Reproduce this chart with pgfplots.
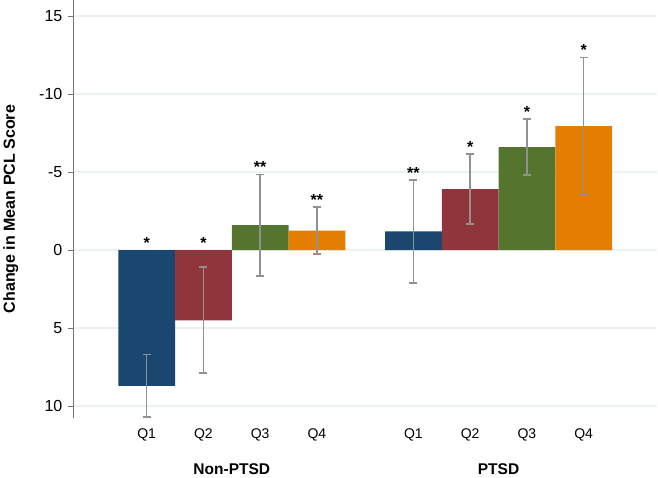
\documentclass[border=0pt]{standalone}
\usepackage{pgfplots}
\pgfplotsset{compat=1.18}
\usepackage{fontspec}
\setmainfont{Liberation Sans}
\definecolor{sNavy}{RGB}{26,71,111}
\definecolor{sMaroon}{RGB}{144,53,59}
\definecolor{sGreen}{RGB}{85,117,47}
\definecolor{sOrange}{RGB}{227,126,0}
\definecolor{sGrid}{RGB}{234,242,243}
\definecolor{sErr}{RGB}{145,145,145}
\begin{document}
\begin{tikzpicture}
\begin{axis}[
    scale only axis,
    width=584pt, height=417pt,
    xmin=0, xmax=10.3,
    ymin=-16, ymax=10.75,
    y dir=reverse,
    axis x line*=bottom,
    axis y line*=left,
    x axis line style={draw=none},
    y axis line style={draw=gray!90!black, line width=0.8pt, -},
    xtick={1.3,2.3,3.3,4.3,6,7,8,9},
    xticklabels={Q1,Q2,Q3,Q4,Q1,Q2,Q3,Q4},
    x tick style={draw=none},
    x tick label style={font=\fontsize{14}{16}\selectfont, yshift=-2pt},
    ytick={-15,-10,-5,0,5,10},
    yticklabels={15,-10,-5,0,5,10},
    y tick style={draw=gray!90!black, line width=0.8pt},
    tick align=outside,
    major tick length=5pt,
    y tick label style={font=\fontsize{16}{18}\selectfont, xshift=-2pt},
    /pgf/number format/assume math mode=true,
    ymajorgrids,
    grid style={sGrid, line width=1.2pt},
    ylabel={\bfseries Change in Mean PCL Score},
    ylabel style={font=\fontsize{16}{18}\selectfont, yshift=14pt},
    clip=false,
    every axis plot/.append style={ybar, bar width=1, bar shift=0pt, draw=none,
        error bars/y dir=both, error bars/y explicit,
        error bars/error bar style={sErr, line width=1.6pt},
        error bars/error mark options={rotate=90, sErr, mark size=4pt, line width=1.6pt}},
]
\addplot[fill=sNavy] coordinates {(1.3,8.7) +- (0,2.0) (6,-1.2) +- (0,3.3)};
\addplot[fill=sMaroon] coordinates {(2.3,4.5) +- (0,3.4) (7,-3.9) +- (0,2.24)};
\addplot[fill=sGreen] coordinates {(3.3,-1.6) +- (0,3.25) (8,-6.6) +- (0,1.8)};
\addplot[fill=sOrange] coordinates {(4.3,-1.25) +- (0,1.5) (9,-7.95) +- (0,4.38)};
% significance stars
\addplot[only marks, mark=none, draw=none, error bars/y dir=none,
    nodes near coords={\pgfplotspointmeta},
    point meta=explicit symbolic,
    nodes near coords style={font=\fontsize{16}{18}\selectfont\bfseries, anchor=south, inner sep=0pt, yshift=1.5pt}]
    coordinates {
    (1.3,0) [*] (2.3,0) [*] (3.3,-4.85) [**] (4.3,-2.75) [**]
    (6,-4.5) [**] (7,-6.14) [*] (8,-8.4) [*] (9,-12.33) [*]
};
\node[font=\fontsize{15.5}{18}\selectfont\bfseries] at (axis cs:2.8,10.75) [yshift=-51pt] {Non-PTSD};
\node[font=\fontsize{15.5}{18}\selectfont\bfseries] at (axis cs:7.5,10.75) [yshift=-51pt] {PTSD};
\end{axis}
\end{tikzpicture}
\end{document}
